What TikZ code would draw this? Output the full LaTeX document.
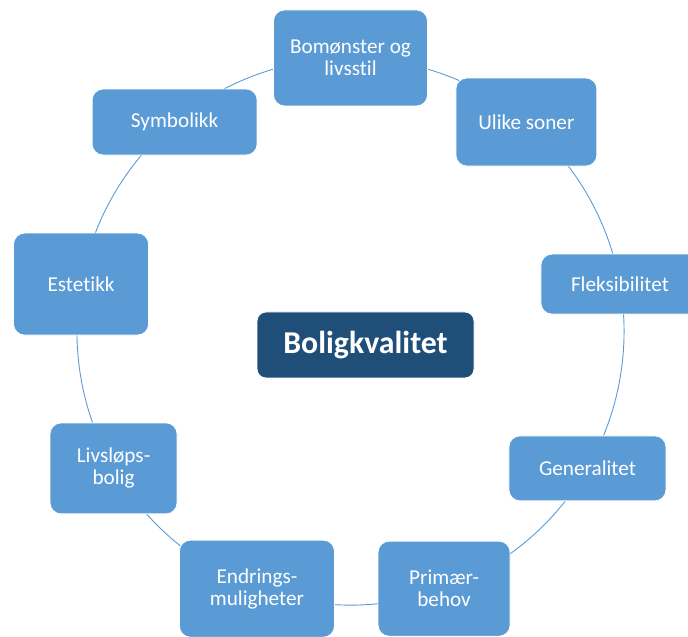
\documentclass[tikz,border=0pt]{standalone}
\usepackage{fontspec}
\setmainfont[Ligatures=NoCommon]{Carlito}
\usetikzlibrary{backgrounds}
\definecolor{boxblue}{HTML}{5B9BD5}
\definecolor{darkblue}{HTML}{1F4E79}
\begin{document}
\begin{tikzpicture}[x=1pt,y=1pt,
  itembox/.style={rectangle, rounded corners=11pt, fill=boxblue, draw=white, line width=0.8pt,
    text=white, align=center, inner sep=0pt, font=\fontsize{21.2}{22}\selectfont},
  mainbox/.style={rectangle, rounded corners=9pt, fill=darkblue, draw=white, line width=0.8pt,
    text=white, align=center, inner sep=0pt, font=\fontsize{31.8}{34}\selectfont\bfseries,
    minimum width=217pt, minimum height=66pt},
  conn/.style={draw=boxblue, line width=0.9pt, bend left=20, looseness=0.878}]
\useasboundingbox (0,0) rectangle (688,637);
\coordinate (ctr) at (350.5,305.4);
\def\R{273.6pt}
\node[itembox, minimum width=154pt, minimum height=96pt] (n1) at ([shift={(90:\R)}]ctr) {Bomønster og\\livsstil};
\node[itembox, minimum width=141pt, minimum height=88pt] (n2) at ([shift={(50:\R)}]ctr) {Ulike soner};
\node[itembox, minimum width=158pt, minimum height=60pt] (n3) at ([shift={(10:\R)}]ctr) {Fleksibilitet};
\node[itembox, minimum width=157pt, minimum height=65pt] (n4) at ([shift={(-30:\R)}]ctr) {Generalitet};
\node[itembox, minimum width=132pt, minimum height=95pt] (n5) at ([shift={(-70:\R)}]ctr) {Primær-\\behov};
\node[itembox, minimum width=155pt, minimum height=97pt] (n6) at ([shift={(-110:\R)}]ctr) {Endrings-\\muligheter};
\node[itembox, minimum width=127pt, minimum height=91pt] (n7) at ([shift={(-150:\R)}]ctr) {Livsløps-\\bolig};
\node[itembox, minimum width=135pt, minimum height=102pt] (n8) at ([shift={(170:\R)}]ctr) {Estetikk};
\node[itembox, minimum width=165pt, minimum height=66pt] (n9) at ([shift={(130:\R)}]ctr) {Symbolikk};
\node[mainbox] (main) at (365.5,292) {Boligkvalitet};
\begin{scope}[on background layer]
\draw[conn] (n1.center) to (n2.center);
\draw[conn] (n2.center) to (n3.center);
\draw[conn] (n3.center) to (n4.center);
\draw[conn] (n4.center) to (n5.center);
\draw[conn] (n5.center) to (n6.center);
\draw[conn] (n6.center) to (n7.center);
\draw[conn] (n7.center) to (n8.center);
\draw[conn] (n8.center) to (n9.center);
\draw[conn] (n9.center) to (n1.center);
\end{scope}
\end{tikzpicture}
\end{document}
